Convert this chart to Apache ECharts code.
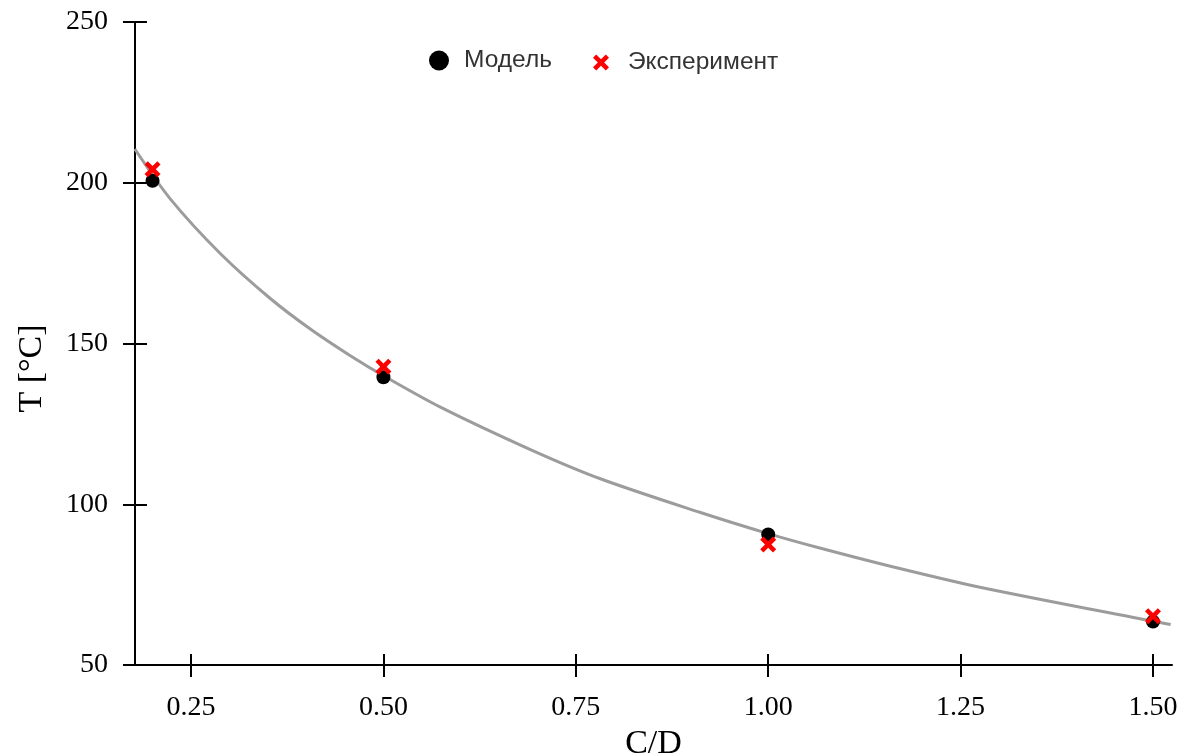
<!DOCTYPE html>
<html>
<head>
<meta charset="utf-8">
<script src="https://cdn.jsdelivr.net/npm/echarts@6/dist/echarts.min.js"></script>
<style>
html,body{margin:0;padding:0;background:#fff;}
#chart{width:1188px;height:756px;}
</style>
</head>
<body>
<div id="chart"></div>
<script>
// ---- data ----
var cdValues = [0.2, 0.5, 1.0, 1.5];
var modelT = [200.6, 139.5, 90.6, 63.5];
var experimentT = [204.2, 142.8, 87.5, 65.2];
var curveX = [0.177, 0.223, 0.288, 0.353, 0.405, 0.457, 0.502, 0.574, 0.691, 0.781, 0.911, 1.001, 1.067, 1.171, 1.275, 1.5, 1.523];
var curveT = [210.5, 195.0, 178.0, 164.0, 154.5, 146.2, 139.7, 130.2, 117.0, 108.0, 97.5, 90.8, 86.4, 80.0, 74.2, 63.6, 62.6];
var xTicks = [0.25, 0.5, 0.75, 1.0, 1.25, 1.5];
var yTicks = [50, 100, 150, 200, 250];
var seriesNames = ['Модель', 'Эксперимент'];
var xName = 'C/D';
var yName = 'T [°C]';

var xMin = 0.1772, xMax = 1.5247;
var yMin = 50, yMax = 250;

var crossPath = 'path://M2,0 L5,3 L8,0 L10,2 L7,5 L10,8 L8,10 L5,7 L2,10 L0,8 L3,5 L0,2 Z';
var serifFont = '"Liberation Serif", "DejaVu Serif", serif';
var sansFont = '"Liberation Sans", Arial, sans-serif';

function zip(a, b) { return a.map(function (v, i) { return [v, b[i]]; }); }

var chart = echarts.init(document.getElementById('chart'), null, {renderer: 'canvas'});

var axisLineStyle = {color: '#000', width: 2};

var option = {
  backgroundColor: '#fff',
  animation: false,
  grid: {left: 135, right: 16, top: 22, bottom: 91, containLabel: false, outerBoundsMode: 'none'},
  legend: [
    {
      left: 424, top: 43,
      itemWidth: 20, itemHeight: 20,
      textStyle: {fontFamily: sansFont, fontSize: 24.5, color: '#333', padding: [0, 0, 0, 10]},
      data: [{name: seriesNames[0], icon: 'circle'}]
    },
    {
      left: 588, top: 45,
      itemWidth: 16, itemHeight: 16,
      textStyle: {fontFamily: sansFont, fontSize: 24.5, color: '#333', padding: [0, 0, 0, 14]},
      data: [{name: seriesNames[1], icon: crossPath}]
    }
  ],
  xAxis: [
    {
      type: 'value', min: xMin, max: xMax,
      name: xName, nameLocation: 'middle', nameGap: 60,
      nameTextStyle: {fontFamily: serifFont, fontSize: 34, color: '#000'},
      axisLine: {show: true, lineStyle: axisLineStyle},
      axisTick: {show: true, inside: false, length: 12, lineStyle: axisLineStyle, customValues: xTicks},
      axisLabel: {show: true, fontFamily: serifFont, fontSize: 28, color: '#000', margin: 29,
        customValues: xTicks, formatter: function (v) { return v.toFixed(2); }},
      splitLine: {show: false}
    },
    {
      type: 'value', min: xMin, max: xMax, position: 'bottom',
      axisLine: {show: false},
      axisTick: {show: true, inside: true, length: 11, lineStyle: axisLineStyle, customValues: xTicks},
      axisLabel: {show: false},
      splitLine: {show: false}
    }
  ],
  yAxis: [
    {
      type: 'value', min: yMin, max: yMax, interval: 50,
      name: yName, nameLocation: 'middle', nameGap: 86,
      nameTextStyle: {fontFamily: serifFont, fontSize: 34, color: '#000', padding: [0, 50, 0, 0]},
      axisLine: {show: true, lineStyle: axisLineStyle},
      axisTick: {show: true, inside: false, length: 12, lineStyle: axisLineStyle},
      axisLabel: {show: true, fontFamily: serifFont, fontSize: 28, color: '#000', margin: 27},
      splitLine: {show: false}
    },
    {
      type: 'value', min: yMin, max: yMax, interval: 50, position: 'left',
      axisLine: {show: false},
      axisTick: {show: true, inside: true, length: 12, lineStyle: axisLineStyle},
      axisLabel: {show: false},
      splitLine: {show: false}
    }
  ],
  series: [
    {
      name: 'fit', type: 'line', xAxisIndex: 0, yAxisIndex: 0,
      data: zip(curveX, curveT), smooth: 0.3, symbol: 'none', clip: false,
      lineStyle: {color: '#9c9c9c', width: 3}, z: 1, silent: true
    },
    {
      name: seriesNames[0], type: 'scatter', xAxisIndex: 0, yAxisIndex: 0,
      data: zip(cdValues, modelT), symbol: 'circle', symbolSize: 14,
      itemStyle: {color: '#000', opacity: 1}, z: 2
    },
    {
      name: seriesNames[1], type: 'scatter', xAxisIndex: 0, yAxisIndex: 0,
      data: zip(cdValues, experimentT), symbol: crossPath, symbolSize: 16,
      itemStyle: {color: '#ff0000', opacity: 1}, z: 3
    }
  ]
};
chart.setOption(option);
</script>
</body>
</html>
